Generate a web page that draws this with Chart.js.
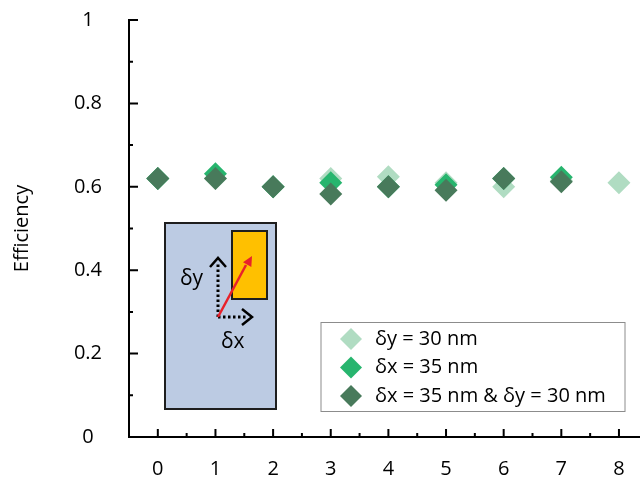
<!DOCTYPE html>
<html>
<head>
<meta charset="utf-8">
<script src="https://cdn.jsdelivr.net/npm/chart.js@4"></script>
<style>
  html, body { margin: 0; padding: 0; background: #fff; }
  #wrap { width: 640px; height: 478px; }
</style>
</head>
<body>
<div id="wrap"><canvas id="chart" width="640" height="478"></canvas></div>
<script>
// valeurs
const positions = [0, 1, 2, 3, 4, 5, 6, 7, 8];
const dyOnly = [0.62, 0.62, 0.60, 0.62, 0.624, 0.61, 0.60, 0.615, 0.61];
const dxOnly = [0.62, 0.631, 0.60, 0.61, 0.60, 0.605, 0.62, 0.623, null];
const dxdy = [0.62, 0.62, 0.60, 0.583, 0.60, 0.592, 0.62, 0.612, null];
const xTicks = [0, 1, 2, 3, 4, 5, 6, 7, 8];
const xMinorTicks = [-0.5, 0.5, 1.5, 2.5, 3.5, 4.5, 5.5, 6.5, 7.5];
const yTicks = [0, 0.2, 0.4, 0.6, 0.8, 1];
const yMinorTicks = [0.1, 0.3, 0.5, 0.7, 0.9];
const seriesNames = ['δy = 30 nm', 'δx = 35 nm', 'δx = 35 nm & δy = 30 nm'];
const seriesColors = ['#b0dcc2', '#27b56e', '#487a5b'];

const FONT = '"Open Sans", sans-serif';

function toPoints(values) {
  return positions.map((x, i) => ({ x: x, y: values[i] })).filter(p => p.y !== null);
}

function diamond(ctx, x, y, r, color) {
  ctx.beginPath();
  ctx.moveTo(x - r, y);
  ctx.lineTo(x, y - r);
  ctx.lineTo(x + r, y);
  ctx.lineTo(x, y + r);
  ctx.closePath();
  ctx.fillStyle = color;
  ctx.fill();
}

// petites graduations tournées vers l'intérieur
const innerTicks = {
  id: 'innerTicks',
  afterDraw(chart) {
    const ctx = chart.ctx;
    const xs = chart.scales.x, ys = chart.scales.y;
    const left = chart.chartArea.left, bottom = chart.chartArea.bottom;
    ctx.save();
    ctx.strokeStyle = '#000';
    ctx.lineWidth = 2;
    ctx.beginPath();
    yTicks.forEach(v => { const p = ys.getPixelForValue(v); ctx.moveTo(left, p); ctx.lineTo(left + 9, p); });
    yMinorTicks.forEach(v => { const p = ys.getPixelForValue(v); ctx.moveTo(left, p); ctx.lineTo(left + 4, p); });
    xTicks.forEach(v => { const p = xs.getPixelForValue(v); ctx.moveTo(p, bottom); ctx.lineTo(p, bottom - 8); });
    xMinorTicks.forEach(v => { const p = xs.getPixelForValue(v); ctx.moveTo(p, bottom); ctx.lineTo(p, bottom - 4); });
    ctx.stroke();
    ctx.restore();
  }
};

// schéma encarté + légende encadrée
const overlay = {
  id: 'overlay',
  afterDraw(chart) {
    const ctx = chart.ctx;
    ctx.save();

    // rectangle bleu
    ctx.fillStyle = '#bccbe3';
    ctx.fillRect(165, 223, 111, 186);
    ctx.strokeStyle = '#1e1e1e';
    ctx.lineWidth = 2;
    ctx.strokeRect(165, 223, 111, 186);

    // rectangle jaune
    ctx.fillStyle = '#ffc000';
    ctx.fillRect(232, 231, 35, 68);
    ctx.strokeRect(232, 231, 35, 68);

    // flèches pointillées
    ctx.strokeStyle = '#000';
    ctx.lineWidth = 3;
    ctx.setLineDash([2.5, 2.5]);
    ctx.beginPath();
    ctx.moveTo(218, 317); ctx.lineTo(218, 262);
    ctx.moveTo(218, 317); ctx.lineTo(248, 317);
    ctx.stroke();
    ctx.setLineDash([]);
    ctx.lineWidth = 2.5;
    ctx.beginPath();
    ctx.moveTo(210, 267); ctx.lineTo(218, 258); ctx.lineTo(226, 267);
    ctx.moveTo(242, 309); ctx.lineTo(252, 317); ctx.lineTo(242, 325);
    ctx.stroke();

    // flèche rouge
    ctx.strokeStyle = '#e8212b';
    ctx.fillStyle = '#e8212b';
    ctx.lineWidth = 2.5;
    ctx.beginPath();
    ctx.moveTo(218, 317); ctx.lineTo(246, 265);
    ctx.stroke();
    const ang = Math.atan2(256 - 317, 252 - 218);
    ctx.beginPath();
    ctx.moveTo(252, 256);
    ctx.lineTo(252 - 11 * Math.cos(ang - 0.45), 256 - 11 * Math.sin(ang - 0.45));
    ctx.lineTo(252 - 11 * Math.cos(ang + 0.45), 256 - 11 * Math.sin(ang + 0.45));
    ctx.closePath();
    ctx.fill();

    ctx.fillStyle = '#000';
    ctx.font = '21px ' + FONT;
    ctx.textBaseline = 'middle';
    ctx.textAlign = 'left';
    ctx.fillText('δy', 180, 279);
    ctx.fillText('δx', 221, 342);

    // légende
    ctx.fillStyle = '#fff';
    ctx.fillRect(321, 322.5, 304, 89);
    ctx.strokeStyle = '#8c8c8c';
    ctx.lineWidth = 1;
    ctx.strokeRect(321, 322.5, 304, 89);
    const rows = [339, 367.5, 396];
    ctx.font = '20px ' + FONT;
    seriesNames.forEach((name, i) => {
      diamond(ctx, 351, rows[i], 11, seriesColors[i]);
      ctx.fillStyle = '#000';
      ctx.fillText(name, 375, rows[i]);
    });

    ctx.restore();
  }
};

new Chart(document.getElementById('chart'), {
  type: 'scatter',
  data: {
    datasets: [
      { label: seriesNames[0], data: toPoints(dyOnly), backgroundColor: seriesColors[0], order: 3 },
      { label: seriesNames[1], data: toPoints(dxOnly), backgroundColor: seriesColors[1], order: 2 },
      { label: seriesNames[2], data: toPoints(dxdy), backgroundColor: seriesColors[2], order: 1 }
    ]
  },
  options: {
    responsive: false,
    animation: false,
    elements: {
      point: { pointStyle: 'rectRot', radius: 11.5, borderWidth: 0, hoverRadius: 11.5 }
    },
    layout: { autoPadding: false, padding: { top: 20, right: 0, left: 0, bottom: 0 } },
    plugins: {
      legend: { display: false },
      tooltip: { enabled: false }
    },
    scales: {
      x: {
        type: 'linear',
        min: -0.5,
        max: 8.365,
        grid: { display: false, drawTicks: false },
        border: { display: true, color: '#000', width: 2 },
        afterBuildTicks: scale => { scale.ticks = xTicks.map(v => ({ value: v })); },
        afterFit: scale => {
          scale.height = 41;
          scale.paddingLeft = 0;
          scale.paddingRight = 0;
        },
        ticks: {
          autoSkip: false,
          maxRotation: 0,
          padding: 20,
          color: '#000',
          font: { family: FONT, size: 20 }
        }
      },
      y: {
        min: 0,
        max: 1,
        grid: { display: false, drawTicks: false },
        border: { display: true, color: '#000', width: 2 },
        afterFit: scale => {
          scale.width = 129;
          scale.paddingTop = 0;
          scale.paddingBottom = 0;
        },
        ticks: {
          stepSize: 0.2,
          crossAlign: 'center',
          padding: 27,
          color: '#000',
          font: { family: FONT, size: 20 },
          callback: v => String(+v.toFixed(1))
        },
        title: {
          display: true,
          text: 'Efficiency',
          color: '#000',
          padding: { top: 10, bottom: 0 },
          font: { family: FONT, size: 20 }
        }
      }
    }
  },
  plugins: [innerTicks, overlay]
});
</script>
</body>
</html>
